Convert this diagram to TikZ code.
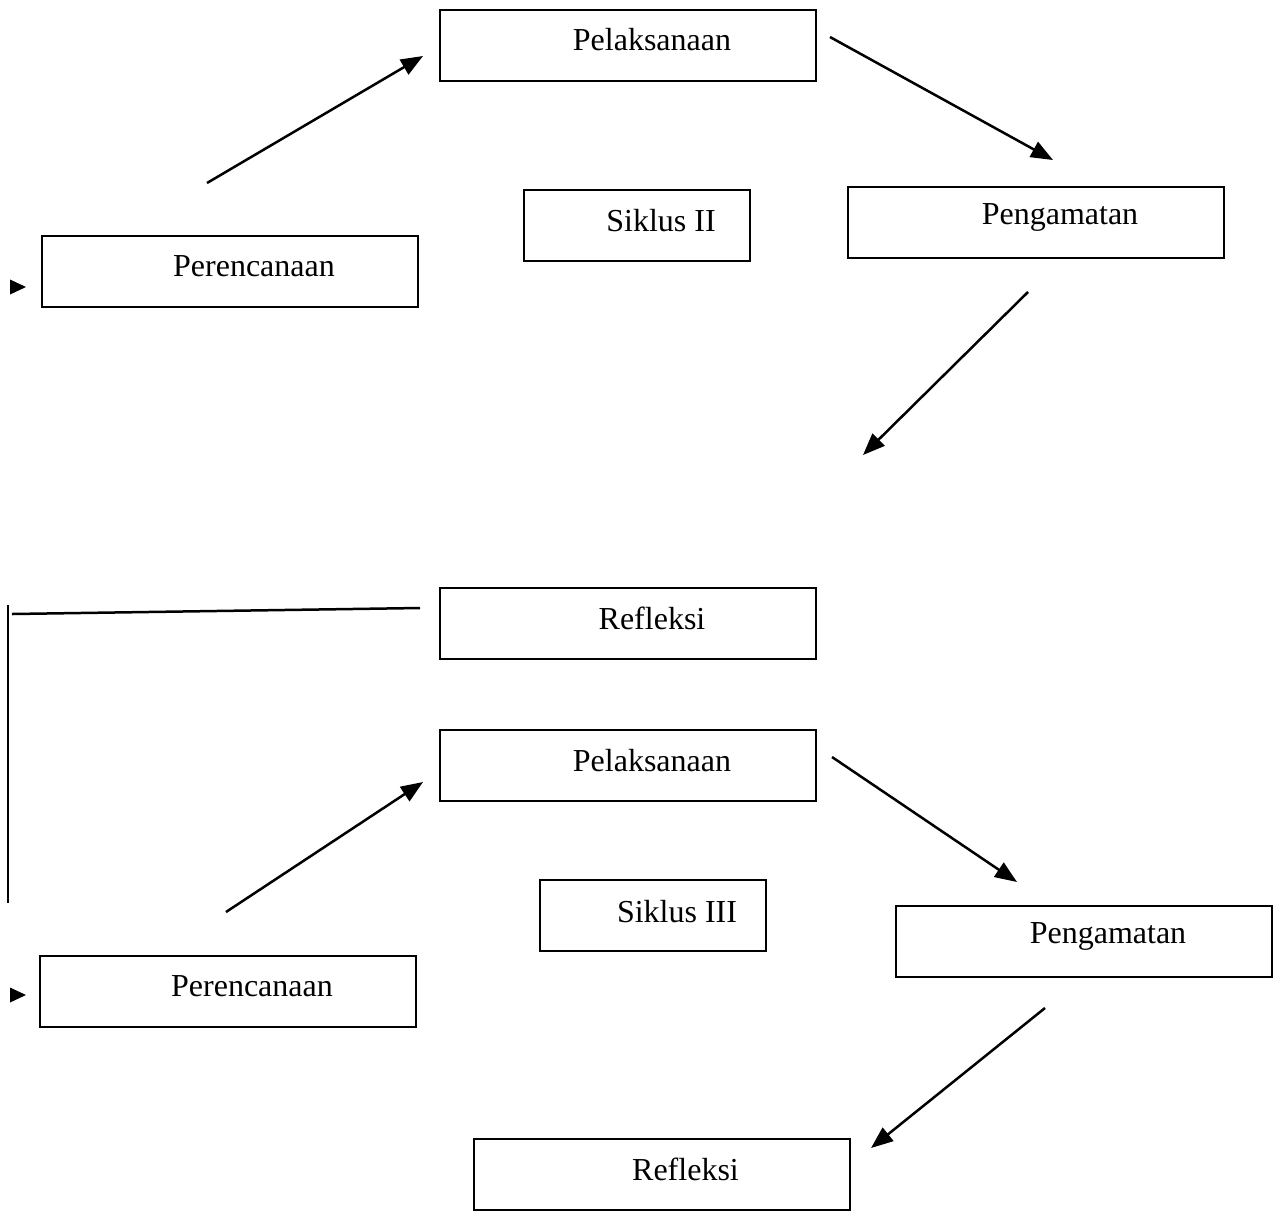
\documentclass[tikz,border=0pt]{standalone}
\usepackage{fontspec}
\setmainfont{Liberation Serif}
\usetikzlibrary{arrows.meta}
\begin{document}
\begin{tikzpicture}[x=1pt,y=-1pt,
  box/.style={draw, line width=2pt, minimum width=376pt, minimum height=71pt, inner sep=0pt},
  sbox/.style={draw, line width=2pt, minimum width=226pt, minimum height=71pt, inner sep=0pt},
  lbl/.style={font=\fontsize{32}{38}\selectfont},
  arr/.style={line width=2.5pt, -{Triangle[length=22pt,width=17pt]}},
  ln/.style={line width=2.5pt}]
\useasboundingbox (0,0) rectangle (1273,1216);
% cycle II
\node[box, label={[lbl,xshift=24pt,yshift=5pt]center:Pelaksanaan}] (pel1) at (628,45) {};
\node[sbox, label={[lbl,xshift=24pt,yshift=5pt]center:Siklus II}] (sik2) at (637,225.5) {};
\node[box, label={[lbl,xshift=24pt,yshift=5pt]center:Pengamatan}] (pen1) at (1036,222) {};
\node[box, label={[lbl,xshift=24pt,yshift=5pt]center:Perencanaan}] (per1) at (230,271) {};
\node[box, label={[lbl,xshift=24pt,yshift=5pt]center:Refleksi}] (ref1) at (628,623.5) {};
% cycle III
\node[box, label={[lbl,xshift=24pt,yshift=5pt]center:Pelaksanaan}] (pel2) at (628,765.5) {};
\node[sbox, label={[lbl,xshift=24pt,yshift=3pt]center:Siklus III}] (sik3) at (653,915) {};
\node[box, label={[lbl,xshift=24pt,yshift=5pt]center:Pengamatan}] (pen2) at (1084,941.5) {};
\node[box, label={[lbl,xshift=24pt,yshift=5pt]center:Perencanaan}] (per2) at (228,991.5) {};
\node[box, label={[lbl,xshift=24pt,yshift=5pt]center:Refleksi}] (ref2) at (661.5,1174.5) {};
% arrow end points
\coordinate (a1s) at (207,183); \coordinate (a1e) at (423,56);
\coordinate (a2s) at (830,37); \coordinate (a2e) at (1053,160);
\coordinate (a3s) at (1028,292); \coordinate (a3e) at (863,455);
\coordinate (b1s) at (226,912); \coordinate (b1e) at (423,782);
\coordinate (b2s) at (832,757); \coordinate (b2e) at (1017,882);
\coordinate (b3s) at (1045,1008); \coordinate (b3e) at (871,1148);
\draw[arr] (a1s) -- (a1e);
\draw[arr] (a2s) -- (a2e);
\draw[arr] (a3s) -- (a3e);
\draw[arr] (b1s) -- (b1e);
\draw[arr] (b2s) -- (b2e);
\draw[arr] (b3s) -- (b3e);
% feedback line
\coordinate (f1) at (420,608); \coordinate (f2) at (12,614);
\coordinate (v1) at (8,605); \coordinate (v2) at (8,903);
\draw[ln] (f1) -- (f2);
\draw[ln] (v1) -- (v2);
% small triangles
\coordinate (t1) at (10,287); \coordinate (t2) at (10,995);
\fill (t1) ++(0,-7.5) -- ++(16,7.5) -- ++(-16,7.5) -- cycle;
\fill (t2) ++(0,-7.5) -- ++(16,7.5) -- ++(-16,7.5) -- cycle;
\end{tikzpicture}
\end{document}
